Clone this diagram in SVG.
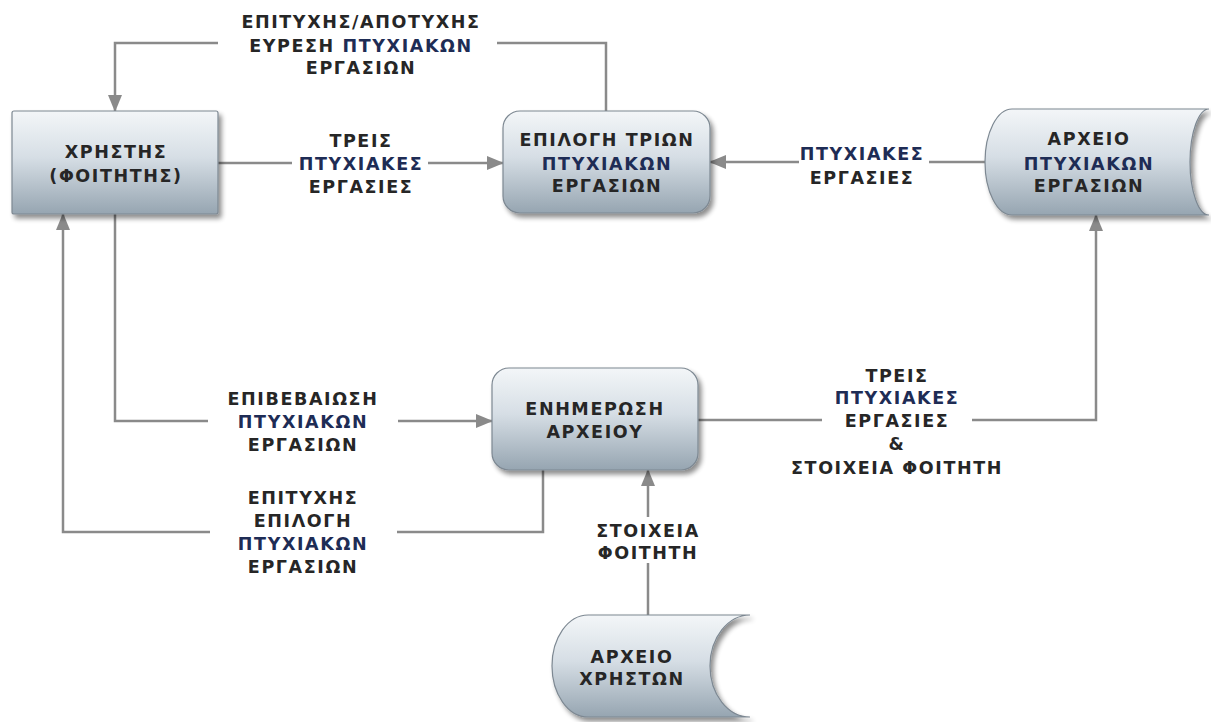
<svg xmlns="http://www.w3.org/2000/svg" width="1211" height="722" viewBox="0 0 1211 722">
<style>
.lbl{font-family:"DejaVu Sans","Liberation Sans",sans-serif;font-weight:bold;font-size:17.5px;letter-spacing:1.6px;fill:#262626;text-anchor:middle}
.hl{fill:#1e2c55}
.node{fill:url(#g);stroke:#7d8892;stroke-width:1.2;filter:url(#sh)}
.conn{fill:none;stroke:#8a8a8a;stroke-width:2.5}
</style>
<defs>
<linearGradient id="g" x1="0" y1="0" x2="0" y2="1">
<stop offset="0" stop-color="#f3f6f8"/>
<stop offset="0.45" stop-color="#d6dee5"/>
<stop offset="1" stop-color="#96a5b1"/>
</linearGradient>
<filter id="sh" x="-10%" y="-10%" width="125%" height="130%">
<feGaussianBlur in="SourceAlpha" stdDeviation="2.5"/>
<feOffset dx="3" dy="4" result="b"/>
<feComponentTransfer><feFuncA type="linear" slope="0.45"/></feComponentTransfer>
<feMerge><feMergeNode/><feMergeNode in="SourceGraphic"/></feMerge>
</filter>
<marker id="ah" markerUnits="userSpaceOnUse" markerWidth="17" markerHeight="14" refX="16" refY="7" orient="auto">
<path d="M0,0 L17,7 L0,14 Z" fill="#8a8a8a"/>
</marker>
</defs>
<rect width="1211" height="722" fill="#ffffff"/>

<g id="connectors">
<path class="conn" d="M606,111 V43 H497"/>
<path class="conn" d="M218,43 H115 V111" marker-end="url(#ah)"/>
<path class="conn" d="M218,163 H292"/>
<path class="conn" d="M428,163 H503" marker-end="url(#ah)"/>
<path class="conn" d="M985,162 H929"/>
<path class="conn" d="M799,162 H710" marker-end="url(#ah)"/>
<path class="conn" d="M115,214 V421 H208"/>
<path class="conn" d="M398,421 H492" marker-end="url(#ah)"/>
<path class="conn" d="M543,470 V532 H397"/>
<path class="conn" d="M210,532 H63 V214" marker-end="url(#ah)"/>
<path class="conn" d="M698,420 H822"/>
<path class="conn" d="M972,420 H1096 V215" marker-end="url(#ah)"/>
<path class="conn" d="M648,615 V563"/>
<path class="conn" d="M648,517 V470" marker-end="url(#ah)"/>
</g>

<g id="labels">
<text class="lbl" x="361" y="28">ΕΠΙΤΥΧΗΣ/ΑΠΟΤΥΧΗΣ</text>
<text class="lbl" x="361" y="52">ΕΥΡΕΣΗ  <tspan class="hl">ΠΤΥΧΙΑΚΩΝ</tspan></text>
<text class="lbl" x="361" y="74">ΕΡΓΑΣΙΩΝ</text>

<text class="lbl" x="361" y="147">ΤΡΕΙΣ</text>
<text class="lbl hl" x="361" y="170">ΠΤΥΧΙΑΚΕΣ</text>
<text class="lbl" x="361" y="193">ΕΡΓΑΣΙΕΣ</text>

<text class="lbl hl" x="862" y="160">ΠΤΥΧΙΑΚΕΣ</text>
<text class="lbl" x="862" y="184">ΕΡΓΑΣΙΕΣ</text>

<text class="lbl" x="303" y="405">ΕΠΙΒΕΒΑΙΩΣΗ</text>
<text class="lbl hl" x="303" y="428">ΠΤΥΧΙΑΚΩΝ</text>
<text class="lbl" x="303" y="451">ΕΡΓΑΣΙΩΝ</text>

<text class="lbl" x="303" y="504">ΕΠΙΤΥΧΗΣ</text>
<text class="lbl" x="303" y="527">ΕΠΙΛΟΓΗ</text>
<text class="lbl hl" x="303" y="550">ΠΤΥΧΙΑΚΩΝ</text>
<text class="lbl" x="303" y="573">ΕΡΓΑΣΙΩΝ</text>

<text class="lbl" x="897" y="382">ΤΡΕΙΣ</text>
<text class="lbl hl" x="897" y="404">ΠΤΥΧΙΑΚΕΣ</text>
<text class="lbl" x="897" y="427">ΕΡΓΑΣΙΕΣ</text>
<text class="lbl" x="897" y="450">&amp;</text>
<text class="lbl" x="897" y="474">ΣΤΟΙΧΕΙΑ ΦΟΙΤΗΤΗ</text>

<text class="lbl" x="648" y="537">ΣΤΟΙΧΕΙΑ</text>
<text class="lbl" x="648" y="559">ΦΟΙΤΗΤΗ</text>
</g>

<g id="node-xristis">
<rect class="node" x="12" y="111" width="206" height="103" rx="2"/>
<text class="lbl" x="116" y="158">ΧΡΗΣΤΗΣ</text>
<text class="lbl" x="116" y="182">(ΦΟΙΤΗΤΗΣ)</text>
</g>

<g id="node-epilogi">
<rect class="node" x="503" y="111" width="207" height="102" rx="17"/>
<text class="lbl" x="607" y="146">ΕΠΙΛΟΓΗ ΤΡΙΩΝ</text>
<text class="lbl hl" x="607" y="170">ΠΤΥΧΙΑΚΩΝ</text>
<text class="lbl" x="607" y="192">ΕΡΓΑΣΙΩΝ</text>
</g>

<g id="node-arxeio-ptyxiakon">
<path class="node" d="M1012,109 H1209 A19,53 0 0 0 1209,215 H1012 A27,53 0 0 1 1012,109 Z"/>
<text class="lbl" x="1089" y="145">ΑΡΧΕΙΟ</text>
<text class="lbl hl" x="1089" y="170">ΠΤΥΧΙΑΚΩΝ</text>
<text class="lbl" x="1089" y="192">ΕΡΓΑΣΙΩΝ</text>
</g>

<g id="node-enimerosi">
<rect class="node" x="492" y="368" width="206" height="102" rx="17"/>
<text class="lbl" x="595" y="415">ΕΝΗΜΕΡΩΣΗ</text>
<text class="lbl" x="595" y="438">ΑΡΧΕΙΟΥ</text>
</g>

<g id="node-arxeio-xriston">
<path class="node" d="M588,615 H750 A40,51 0 0 0 750,717 H588 A36,51 0 0 1 588,615 Z"/>
<text class="lbl" x="632" y="663">ΑΡΧΕΙΟ</text>
<text class="lbl" x="632" y="685">ΧΡΗΣΤΩΝ</text>
</g>
</svg>
